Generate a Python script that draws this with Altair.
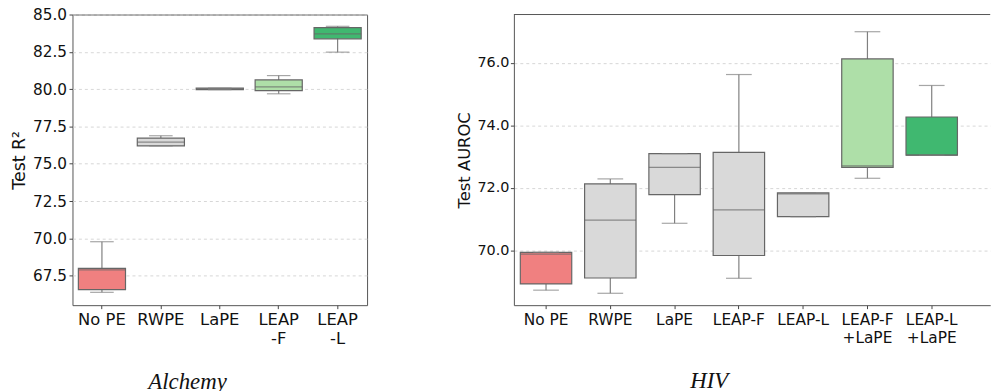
import altair as alt
import pandas as pd

# ---------------- data ----------------
alc_cats = ["No PE", "RWPE", "LaPE", "LEAP\n-F", "LEAP\n-L"]
alc_lo  = [66.39, 76.20, 79.97, 79.69, 82.48]
alc_q1  = [66.57, 76.20, 79.97, 79.90, 83.37]
alc_med = [67.90, 76.45, 80.02, 80.15, 83.70]
alc_q3  = [68.00, 76.72, 80.07, 80.62, 84.12]
alc_hi  = [69.78, 76.88, 80.07, 80.91, 84.21]
alc_col = ["#F08080", "#D9D9D9", "#D9D9D9", "#AEDFA8", "#40B870"]
alc_ticks = [67.5, 70.0, 72.5, 75.0, 77.5, 80.0, 82.5, 85.0]

hiv_cats = ["No PE", "RWPE", "LaPE", "LEAP-F", "LEAP-L", "LEAP-F\n+LaPE", "LEAP-L\n+LaPE"]
hiv_lo  = [68.73, 68.63, 70.87, 69.11, 71.08, 72.31, 73.05]
hiv_q1  = [68.93, 69.12, 71.79, 69.84, 71.08, 72.66, 73.05]
hiv_med = [69.88, 70.97, 72.66, 71.30, 71.81, 72.71, 73.05]
hiv_q3  = [69.94, 72.13, 73.10, 73.14, 71.84, 76.13, 74.27]
hiv_hi  = [69.94, 72.29, 73.10, 75.63, 71.84, 77.00, 75.28]
hiv_col = ["#F08080", "#D9D9D9", "#D9D9D9", "#D9D9D9", "#D9D9D9", "#AEDFA8", "#40B870"]
hiv_ticks = [70.0, 72.0, 74.0, 76.0]

FRAME = "#555555"


def panel(cats, lo, q1, med, q3, hi, colors, ydom, yticks, ytitle, caption,
          width, height, step, pad_outer, xfs, yfs, tfs, lab_pad, cap_dx, open_right):
    df = pd.DataFrame(dict(cat=cats, lo=lo, q1=q1, med=med, q3=q3, hi=hi, col=colors))
    xscale = alt.Scale(domain=cats, paddingInner=0, paddingOuter=pad_outer, align=0)
    xenc = alt.X(
        "cat:N", sort=cats, scale=xscale,
        axis=alt.Axis(labelExpr="split(datum.value, '\\n')",
                      labelAngle=0, labelFontSize=xfs, labelFont="DejaVu Sans",
                      labelColor="#111111", labelLineHeight=19, labelPadding=3.5,
                      tickSize=3.5, tickColor="#444444", grid=False,
                      domain=open_right, domainColor=FRAME, domainWidth=1),
        title=None,
    )
    ysc = alt.Scale(domain=ydom, nice=False, zero=False)
    yax = alt.Axis(values=yticks, format=".1f", grid=True, gridDash=[3, 3],
                   gridColor="#cccccc", gridWidth=0.8, labelFontSize=yfs,
                   labelFont="DejaVu Sans", labelColor="#111111", tickSize=3.5,
                   tickColor="#444444", labelPadding=lab_pad,
                   domain=open_right, domainColor=FRAME, domainWidth=1,
                   title=ytitle, titleFontSize=tfs, titleFont="DejaVu Sans",
                   titleFontWeight="normal", titleColor="#111111", titlePadding=4)

    def yq(f):
        return alt.Y(f, scale=ysc, axis=yax)

    base = alt.Chart(df)
    whisk = base.mark_rule(color="#808080", strokeWidth=1.2).encode(
        x=xenc, y=yq("lo:Q"), y2="hi:Q")
    box = base.mark_bar(width=alt.RelativeBandSize(0.8), stroke="#666666",
                        strokeWidth=1.2).encode(
        x=xenc, y=yq("q1:Q"), y2="q3:Q", color=alt.Color("col:N", scale=None))
    medl = base.mark_tick(size=step * 0.8, thickness=1.3, color="#666666").encode(
        x=xenc, y=yq("med:Q"))
    caplo = base.mark_tick(size=step * 0.4, thickness=1.2, color="#808080").encode(
        x=xenc, y=yq("lo:Q"))
    caphi = base.mark_tick(size=step * 0.4, thickness=1.2, color="#808080").encode(
        x=xenc, y=yq("hi:Q"))
    layers = [whisk, box, medl, caplo, caphi]
    extra = {}
    if open_right:
        # top edge of the frame (the right edge runs off the picture)
        top_edge = alt.Chart(df.head(1)).mark_rule(color=FRAME, strokeWidth=1).encode(
            x=alt.value(0), x2=alt.value(width), y=alt.value(0))
        layers.append(top_edge)
        extra = dict(view=alt.ViewBackground(stroke="transparent"))
    return alt.layer(*layers).properties(
        width=width, height=height,
        title=alt.TitleParams(text=caption, orient="bottom", font="Liberation Serif",
                              fontStyle="italic", fontWeight="normal", fontSize=23,
                              color="#111111", anchor="middle", frame="group",
                              offset=24, dx=cap_dx),
        **extra,
    )


# left: 5 bands of 59.4 px; right: 7 bands of 64.8 px with extra space at the right end
left = panel(alc_cats, alc_lo, alc_q1, alc_med, alc_q3, alc_hi, alc_col,
             [65.53, 85.0], alc_ticks, "Test R²", "Alchemy", 297, 293,
             59.4, 0, 16.5, 15.4, 17.5, 2.5, -32.5, False)
right = panel(hiv_cats, hiv_lo, hiv_q1, hiv_med, hiv_q3, hiv_hi, hiv_col,
              [68.25, 77.55], hiv_ticks, "Test AUROC", "HIV", 480.2, 293,
              64.8, 0.205, 15.5, 14.5, 16.5, 1.5, -43.2, True)

chart = alt.hconcat(left, right, spacing=89).properties(
    padding={"left": 2, "top": -3, "right": 0, "bottom": 0}
).configure_view(stroke=FRAME, strokeWidth=1)

chart.save("out.html", embed_options={"renderer": "svg", "actions": False})
